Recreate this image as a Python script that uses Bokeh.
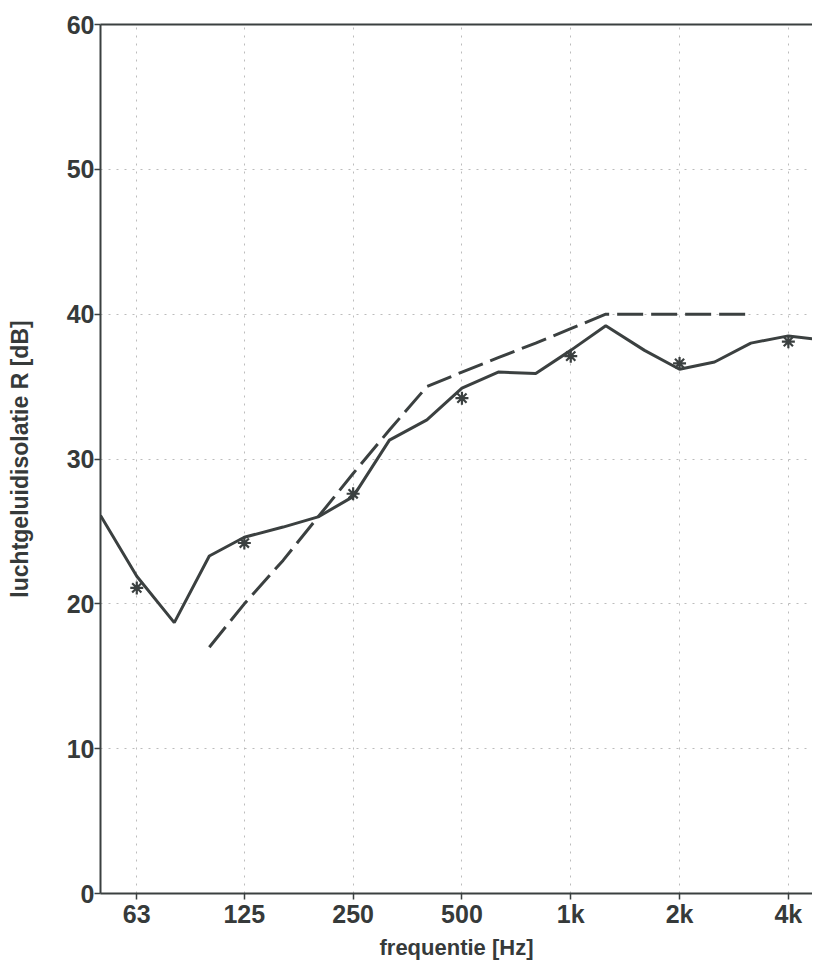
from bokeh.plotting import figure
from bokeh.models import Range1d, FixedTicker, LogAxis
from bokeh.embed import file_html
from bokeh.resources import INLINE

# third-octave band centre frequencies [Hz]
bands = [50, 63, 80, 100, 125, 160, 200, 250, 315, 400, 500, 630, 800,
         1000, 1250, 1600, 2000, 2500, 3150, 4000, 5000]
# measured airborne sound insulation R per third-octave band [dB]
measured_R = [26.1, 21.9, 18.7, 23.3, 24.6, 25.3, 26.0, 27.4, 31.3, 32.7, 34.9,
              36.0, 35.9, 37.5, 39.2, 37.5, 36.2, 36.7, 38.0, 38.5, 38.2]
# octave band values (asterisks)
octave_bands = [63, 125, 250, 500, 1000, 2000, 4000]
octave_R = [21.1, 24.2, 27.6, 34.2, 37.1, 36.6, 38.1]
# shifted reference curve
ref_bands = [100, 125, 160, 200, 250, 315, 400, 500, 630, 800, 1000, 1250,
             1600, 2000, 2500, 3150]
ref_curve = [17, 20, 23, 26, 29, 32, 35, 36, 37, 38, 39, 40, 40, 40, 40, 40]

tick_freqs = [63, 125, 250, 500, 1000, 2000, 4000]
tick_labels = ["63", "125", "250", "500", "1k", "2k", "4k"]
y_ticks = [0, 10, 20, 30, 40, 50, 60]

x_label = "frequentie [Hz]"
y_label = "luchtgeluidisolatie R [dB]"

INK = "#3b4040"
TXT = "#363a3a"
SANS = "'Liberation Sans', Arial, sans-serif"

p = figure(frame_width=712, frame_height=869, x_axis_type="log",
           x_range=Range1d(50, 4665), y_range=Range1d(0, 60),
           output_backend="svg", toolbar_location=None,
           min_border_left=89, min_border_right=0, min_border_top=24,
           min_border_bottom=0)
p.margin = (0, 0, 0, 3)
p.outline_line_color = None
p.background_fill_color = "white"
p.border_fill_color = "white"

# grid
for g in (p.xgrid, p.ygrid):
    g.grid_line_color = "#bcbcbc"
    g.grid_line_dash = "2 6"
    g.grid_line_width = 1
p.xgrid.ticker = FixedTicker(ticks=tick_freqs)
p.ygrid.ticker = FixedTicker(ticks=[10, 20, 30, 40, 50])

# x axis
xa = p.xaxis[0]
xa.ticker = FixedTicker(ticks=tick_freqs)
xa.major_label_overrides = {f: l for f, l in zip(tick_freqs, tick_labels)}
xa.minor_tick_line_color = None
xa.major_tick_in = 0
xa.major_tick_out = 6
xa.major_tick_line_width = 1.5
xa.major_tick_line_color = INK
xa.axis_line_color = INK
xa.axis_line_width = 2
xa.major_label_text_font = SANS
xa.major_label_text_font_style = "bold"
xa.major_label_text_font_size = "25px"
xa.major_label_text_color = TXT
xa.major_label_standoff = 0
xa.axis_label = x_label
xa.axis_label_text_font = SANS
xa.axis_label_text_font_style = "bold"
xa.axis_label_text_font_size = "22px"
xa.axis_label_text_color = TXT
xa.axis_label_standoff = 4

# y axis
ya = p.yaxis[0]
ya.ticker = FixedTicker(ticks=y_ticks)
ya.minor_tick_line_color = None
ya.major_tick_in = 0
ya.major_tick_out = 6
ya.major_tick_line_width = 1.5
ya.major_tick_line_color = INK
ya.axis_line_color = INK
ya.axis_line_width = 2
ya.major_label_text_font = SANS
ya.major_label_text_font_style = "bold"
ya.major_label_text_font_size = "25px"
ya.major_label_text_color = TXT
ya.major_label_standoff = 0
ya.axis_label = y_label
ya.axis_label_text_font = SANS
ya.axis_label_text_font_style = "bold"
ya.axis_label_text_font_size = "23px"
ya.axis_label_text_color = TXT
ya.axis_label_standoff = 31

# top frame line
top = LogAxis(ticker=FixedTicker(ticks=[]), axis_line_color=INK, axis_line_width=2,
              major_tick_line_color=None, minor_tick_line_color=None,
              major_label_text_font_size="0px")
p.add_layout(top, "above")

# data
p.line(ref_bands, ref_curve, line_color=INK, line_width=3, line_dash="26 8")
p.line(bands, measured_R, line_color=INK, line_width=3)
p.scatter(octave_bands, octave_R, marker="asterisk", size=13,
          line_color=INK, line_width=2.2)

open("out.html", "w").write(file_html(p, INLINE))
